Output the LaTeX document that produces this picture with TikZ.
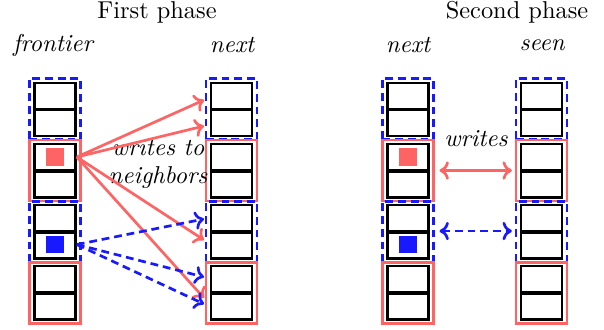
\documentclass[tikz,border=0pt]{standalone}
\usetikzlibrary{arrows.meta}
\definecolor{myred}{RGB}{255,100,100}
\definecolor{myblue}{RGB}{25,25,255}
\begin{document}
\begin{tikzpicture}[x=0.41pt,y=-0.41pt,
  cell/.style={draw=black,line width=1pt,minimum width=16.9pt,minimum height=10.7pt,inner sep=0pt,fill=white},
  redgrp/.style={draw=myred,line width=1pt,minimum width=20.9pt,minimum height=25pt,inner sep=0pt},
  bluegrp/.style={draw=myblue,line width=1pt,dash pattern=on 3.2pt off 2pt,minimum width=20.9pt,minimum height=25pt,inner sep=0pt},
  redmark/.style={fill=myred,minimum size=7pt,inner sep=0pt},
  bluemark/.style={fill=myblue,minimum size=7pt,inner sep=0pt},
  tip/.style={-{To[length=3.8pt,width=7.5pt]}},
  redarr/.style={draw=myred,line width=1.1pt,tip},
  bluearr/.style={draw=myblue,line width=1.1pt,dash pattern=on 3.2pt off 2pt,tip},
  both/.style={{To[length=3.8pt,width=7.5pt]}-{To[length=3.8pt,width=7.5pt]}},
  lbl/.style={font=\itshape,inner sep=0pt}]
\useasboundingbox (0,0) rectangle (604,329);
% group boxes
\foreach \c/\x in {1/55,2/231.5,3/408,4/541.5}{
  \node[bluegrp] (g\c-1) at (\x,109) {};
  \node[redgrp]  (g\c-2) at (\x,170.5) {};
  \node[bluegrp] (g\c-3) at (\x,232) {};
  \node[redgrp]  (g\c-4) at (\x,293) {};
  \foreach \k/\y in {1/96,2/123,3/157,4/184.5,5/218,6/245.5,7/279,8/306.5}{
    \node[cell] (c\c-\k) at (\x,\y) {};
  }
}
% markers
\node[redmark] (m1) at (c1-3) {};
\node[bluemark] (m2) at ([yshift=0.4pt]c1-6) {};
\node[redmark] (m3) at (c3-3) {};
\node[bluemark] (m4) at ([yshift=0.4pt]c3-6) {};
% titles
\node (t1) at (157,12) {First phase};
\node (t2) at (517,12) {Second phase};
\node[lbl] (l1) at (53,45) {frontier};
\node[lbl] (l2) at (232,45) {next};
\node[lbl] (l3) at (408,45) {next};
\node[lbl] (l4) at (542,45) {seen};
\node[lbl,anchor=base] (w1) at (158,155) {writes to};
\node[lbl,anchor=base] (w2) at (158,183) {neighbors};
\node[lbl,anchor=base] (w3) at (476,146) {writes};
% first phase arrows
\coordinate (r1) at (204,100);
\coordinate (r2) at (204,126);
\coordinate (r3) at (204,240);
\coordinate (r4) at (204,298);
\coordinate (b1) at (204,219);
\coordinate (b2) at (204,277);
\coordinate (b3) at (204,304);
\foreach \t in {r1,r2,r3,r4}{ \draw[redarr] (c1-3.east) -- (\t); }
\foreach \t in {b1,b2,b3}{ \draw[bluearr] ([yshift=0.4pt]c1-6.east) -- (\t); }
% second phase arrows
\draw[redarr,both] ([xshift=2pt]g3-2.east) -- ([xshift=-1.2pt]g4-2.west);
\draw[bluearr,both] ([xshift=2pt,yshift=0.4pt]g3-3.east) -- ([xshift=-1.2pt,yshift=0.4pt]g4-3.west);
\end{tikzpicture}
\end{document}
